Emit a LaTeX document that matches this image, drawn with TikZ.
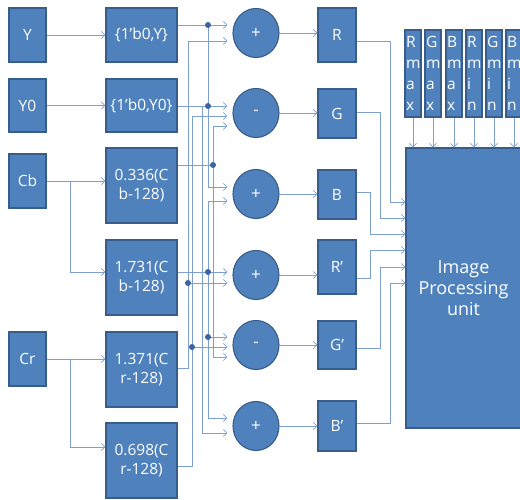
\documentclass[tikz,border=0pt]{standalone}
\usepackage{fontspec}
\setmainfont{Open Sans}
\usetikzlibrary{arrows.meta,shapes.geometric,calc}
\definecolor{boxblue}{RGB}{79,129,189}
\definecolor{boxedge}{RGB}{56,93,138}
\definecolor{wire}{RGB}{125,160,208}
\definecolor{dotc}{RGB}{60,100,160}
\begin{document}
\begin{tikzpicture}[x=1pt,y=-1pt,
  blk/.style={draw=boxedge, fill=boxblue, line width=1.1pt, text=white,
    font=\fontsize{15.5}{19.5}\selectfont, align=center, inner sep=0pt},
  sumnode/.style={blk, ellipse, minimum width=46pt, minimum height=49pt,
    font=\fontsize{17}{20}\selectfont},
  vbox/.style={blk, minimum width=16pt, minimum height=87pt, align=left,
    text width=14pt, font=\fontsize{15.5}{21}\selectfont},
  wirel/.style={draw=wire, line width=0.8pt},
  arr/.style={wirel, -{Straight Barb[length=3.5pt,width=7pt]}},
  jdot/.style={circle, fill=dotc, draw=none, inner sep=0pt, minimum size=6pt},
]
\useasboundingbox (0,0) rectangle (520,499);

% input boxes
\node[blk, minimum width=37pt, minimum height=54pt] (Y)  at (27.5,35)  {Y};
\node[blk, minimum width=37pt, minimum height=53pt] (Y0) at (27.5,105.5) {Y0};
\node[blk, minimum width=37pt, minimum height=54pt] (Cb) at (27.5,181) {Cb};
\node[blk, minimum width=37pt, minimum height=54pt] (Cr) at (27.5,359) {Cr};

% second column
\node[blk, minimum width=71pt, minimum height=54pt] (fY)  at (141.5,35) {\{1’b0,Y\}};
\node[blk, minimum width=71pt, minimum height=53pt] (fY0) at (141.5,105.5) {\{1’b0,Y0\}};
\node[blk, minimum width=71pt, minimum height=75pt] (m336)  at (141.5,185.5) {0.336(C\\b-128)};
\node[blk, minimum width=71pt, minimum height=75pt] (m1731) at (141.5,277.5) {1.731(C\\b-128)};
\node[blk, minimum width=71pt, minimum height=75pt] (m1371) at (141.5,369.5) {1.371(C\\r-128)};
\node[blk, minimum width=71pt, minimum height=75pt] (m698)  at (141.5,460.5) {0.698(C\\r-128)};

% adders
\node[sumnode] (c1) at (256,33)  {+};
\node[sumnode] (c2) at (256,113) {-};
\node[sumnode] (c3) at (256,194) {+};
\node[sumnode] (c4) at (256,275) {+};
\node[sumnode] (c5) at (256,345) {-};
\node[sumnode] (c6) at (256,426) {+};

% outputs
\node[blk, minimum width=38pt, minimum height=54pt] (R)  at (337,35)    {R};
\node[blk, minimum width=38pt, minimum height=49pt] (G)  at (337,113.5) {G};
\node[blk, minimum width=38pt, minimum height=49pt] (B)  at (337,194.5) {B};
\node[blk, minimum width=38pt, minimum height=54pt] (Rp) at (337,267)   {R’};
\node[blk, minimum width=38pt, minimum height=48pt] (Gp) at (337,345)   {G’};
\node[blk, minimum width=38pt, minimum height=50pt] (Bp) at (337,426)   {B’};

% image processing unit
\node[blk, minimum width=115pt, minimum height=280pt,
  font=\fontsize{18}{21}\selectfont] (ipu) at (463.5,288) {Image\\Processing\\unit};

% limit boxes
\node[vbox] (Rmax) at (413,73.5) {R\\m\\a\\x};
\node[vbox] (Gmax) at (433,73.5) {G\\m\\a\\x};
\node[vbox] (Bmax) at (454,73.5) {B\\m\\a\\x};
\node[vbox] (Rmin) at (474,73.5) {R\\m\\i\\n};
\node[vbox] (Gmin) at (494,73.5) {G\\m\\i\\n};
\node[vbox] (Bmin) at (514,73.5) {B\\m\\i\\n};

\coordinate (inx) at ([xshift=-5pt]c1.west);

% input wiring
\draw[arr] (Y) -- (Y -| fY.west);
\draw[arr] (Y0) -- (Y0 -| fY0.west);
\draw[arr] (Cb) -- (Cb -| m336.west);
\coordinate (cbs) at (70,181);
\draw[arr] (cbs) |- (m1731.west |- 0,272);
\draw[arr] (Cr) -- (Cr -| m1371.west);
\coordinate (crs) at (70,359);
\draw[arr] (crs) |- (m698.west |- 0,447);

% junction coordinates
\coordinate (jY)  at (208,25);
\coordinate (jY2) at (208,106);
\coordinate (j336) at (213,165);
\coordinate (j1731) at (208,272);
\coordinate (j1731b) at (208,337);
\coordinate (j1371) at (188,283);
\coordinate (j698) at (192,347);

% column 2 to adders
\draw[arr] (fY.east |- 0,25) -- (inx |- 0,25);
\draw[arr] (jY) |- (inx |- 0,187);
\draw[arr] (fY0.east |- 0,106) -| (202,433) -- (inx |- 0,433);
\draw[arr] (202,106) -- (inx |- 0,106);
\draw[wirel] (m336.east |- 0,165) -- (j336);
\draw[arr] (j336) |- (inx |- 0,126);
\draw[arr] (j336) |- (inx |- 0,357);
\draw[arr] (m1731.east |- 0,272) -- (inx |- 0,272);
\draw[arr] (j1731) |- (inx |- 0,201);
\draw[arr] (j1731) |- (inx |- 0,418);
\draw[arr] (j1731b) -- (inx |- 0,337);
\draw[arr] (m1371.east |- 0,368) -| (188,41) -- (inx |- 0,41);
\draw[arr] (j1371) -- (inx |- 0,283);
\draw[arr] (m698.east |- 0,466) -| (192,116) -- (inx |- 0,116);
\draw[arr] (j698) -- (inx |- 0,347);

% adders to outputs
\foreach \c/\o in {c1/R,c2/G,c3/B,c4/Rp,c5/Gp,c6/Bp}
  \draw[arr] (\c.east) -- (\c.east -| \o.west);

% outputs to IPU
\draw[arr] (R.east |- 0,41)   -| (390,202) -- (ipu.west |- 0,202);
\draw[arr] (G.east |- 0,112)  -| (380,218) -- (ipu.west |- 0,218);
\draw[arr] (B.east |- 0,192)  -| (370,234) -- (ipu.west |- 0,234);
\draw[arr] (Rp.east |- 0,278) -| (370,250) -- (ipu.west |- 0,250);
\draw[arr] (Gp.east |- 0,348) -| (380,267) -- (ipu.west |- 0,267);
\draw[arr] (Bp.east |- 0,423) -| (390,283) -- (ipu.west |- 0,283);

% limits to IPU
\foreach \b in {Rmax,Gmax,Bmax,Rmin,Gmin,Bmin}
  \draw[arr] (\b.south) -- (\b.south |- ipu.north);

% dots
\foreach \d in {jY,jY2,j336,j1731,j1731b,j1371,j698}
  \node[jdot] at (\d) {};
\end{tikzpicture}
\end{document}
